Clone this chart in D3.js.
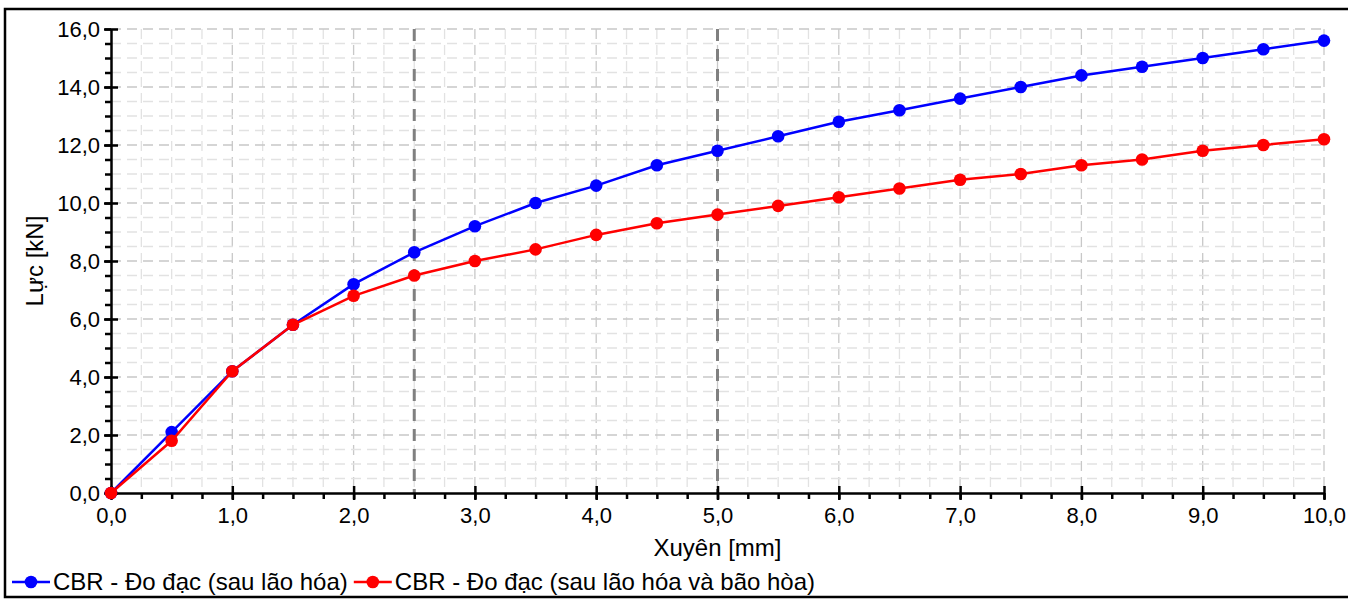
<!DOCTYPE html>
<html>
<head>
<meta charset="utf-8">
<script src="https://cdn.jsdelivr.net/npm/d3@7"></script>
<style>
  body { margin: 0; background: #fff; }
  svg { display: block; font-family: "Liberation Sans", Arial, sans-serif; }
</style>
</head>
<body>
<div id="chart"></div>
<script>
// Data
const xValues = [0, 0.5, 1, 1.5, 2, 2.5, 3, 3.5, 4, 4.5, 5, 5.5, 6, 6.5, 7, 7.5, 8, 8.5, 9, 9.5, 10];
const blueValues = [0, 2.1, 4.2, 5.8, 7.2, 8.3, 9.2, 10.0, 10.6, 11.3, 11.8, 12.3, 12.8, 13.2, 13.6, 14.0, 14.4, 14.7, 15.0, 15.3, 15.6];
const redValues = [0, 1.8, 4.2, 5.8, 6.8, 7.5, 8.0, 8.4, 8.9, 9.3, 9.6, 9.9, 10.2, 10.5, 10.8, 11.0, 11.3, 11.5, 11.8, 12.0, 12.2];
const refLines = [2.5, 5.0];
const seriesNames = ["CBR - Đo đạc (sau lão hóa)", "CBR - Đo đạc (sau lão hóa và bão hòa)"];
const seriesColors = ["#0000ff", "#ff0000"];

const width = 1348, height = 599;
const margin = { top: 29, right: 24, bottom: 106, left: 111 };

const svg = d3.select("#chart")
  .append("svg")
  .attr("width", width)
  .attr("height", height);

// outer frame (right side cropped off in the reference)
svg.append("rect")
  .attr("x", 5).attr("y", 9)
  .attr("width", width + 10).attr("height", 588)
  .attr("fill", "none")
  .attr("stroke", "#000")
  .attr("stroke-width", 2.5);

const xScale = d3.scaleLinear().domain([0, 10]).range([margin.left, width - margin.right]);
const yScale = d3.scaleLinear().domain([0, 16]).range([height - margin.bottom, margin.top]);

const fmt = d => d3.format(".1f")(d).replace(".", ",");

// grid: minor lines every 0.25 (x) and 0.5 (y), major lines darker
const grid = svg.append("g");
const xMinor = d3.range(0, 10.001, 0.25);
const yMinor = d3.range(0, 16.001, 0.5);

grid.selectAll(".vgrid")
  .data(xMinor.filter(d => d > 0))
  .enter().append("line")
  .attr("x1", d => xScale(d)).attr("x2", d => xScale(d))
  .attr("y1", yScale(16)).attr("y2", yScale(0))
  .attr("stroke", d => Math.abs(d % 1) < 1e-6 ? "#c8c8c8" : "#e2e2e2")
  .attr("stroke-width", 1.3)
  .attr("stroke-dasharray", "10,6");

grid.selectAll(".hgrid")
  .data(yMinor.filter(d => d > 0))
  .enter().append("line")
  .attr("x1", xScale(0)).attr("x2", xScale(10))
  .attr("y1", d => yScale(d)).attr("y2", d => yScale(d))
  .attr("stroke", d => Math.abs(d % 2) < 1e-6 ? "#c8c8c8" : "#e2e2e2")
  .attr("stroke-width", 1.3)
  .attr("stroke-dasharray", "10,6");

// reference dashed lines at 2.5 and 5.0 mm
svg.selectAll(".ref")
  .data(refLines)
  .enter().append("line")
  .attr("x1", d => xScale(d)).attr("x2", d => xScale(d))
  .attr("y1", yScale(16)).attr("y2", yScale(0))
  .attr("stroke", "#808080")
  .attr("stroke-width", 3)
  .attr("stroke-dasharray", "12,8");

// axes
const xAxis = svg.append("g")
  .attr("transform", `translate(0, ${yScale(0)})`)
  .call(d3.axisBottom(xScale).tickValues(d3.range(0, 11, 1)).tickFormat(fmt).tickSize(7).tickSizeOuter(0));
svg.append("g")
  .attr("transform", `translate(0, ${yScale(0)})`)
  .call(d3.axisBottom(xScale).tickValues(xMinor).tickFormat("").tickSize(6).tickSizeOuter(0))
  .call(g => g.select(".domain").remove());

const yAxis = svg.append("g")
  .attr("transform", `translate(${xScale(0)}, 0)`)
  .call(d3.axisLeft(yScale).tickValues(d3.range(0, 17, 2)).tickFormat(fmt).tickSize(7).tickSizeOuter(0));
svg.append("g")
  .attr("transform", `translate(${xScale(0)}, 0)`)
  .call(d3.axisLeft(yScale).tickValues(yMinor).tickFormat("").tickSize(6).tickSizeOuter(0))
  .call(g => g.select(".domain").remove());

svg.selectAll(".domain, .tick line").attr("stroke", "#000").attr("stroke-width", 2.5);
svg.selectAll(".tick text").attr("font-size", 22).attr("fill", "#000")
  .attr("font-family", "Liberation Sans, Arial, sans-serif");
xAxis.selectAll(".tick line").attr("y1", -7);
xAxis.selectAll(".tick text").attr("dy", "0.71em").attr("y", 14);
yAxis.selectAll(".tick line").attr("x1", 7);
yAxis.selectAll(".tick text").attr("x", -11);

// axis titles
svg.append("text")
  .attr("x", (xScale(0) + xScale(10)) / 2)
  .attr("y", 556)
  .attr("text-anchor", "middle")
  .attr("font-size", 24)
  .text("Xuyên [mm]");

svg.append("text")
  .attr("transform", `translate(43, ${(yScale(0) + yScale(16)) / 2}) rotate(-90)`)
  .attr("text-anchor", "middle")
  .attr("font-size", 24)
  .text("Lực [kN]");

// series
const series = [blueValues, redValues];
const line = d3.line().x((d, i) => xScale(xValues[i])).y(d => yScale(d));

series.forEach((values, k) => {
  svg.append("path")
    .datum(values)
    .attr("fill", "none")
    .attr("stroke", seriesColors[k])
    .attr("stroke-width", 2.5)
    .attr("d", line);

  svg.selectAll(".dot" + k)
    .data(values)
    .enter().append("circle")
    .attr("cx", (d, i) => xScale(xValues[i]))
    .attr("cy", d => yScale(d))
    .attr("r", 6.3)
    .attr("fill", seriesColors[k]);
});

// legend
const legend = svg.append("g").attr("transform", "translate(12, 582)");
let lx = 0;
seriesNames.forEach((name, k) => {
  const item = legend.append("g").attr("transform", `translate(${lx}, 0)`);
  item.append("line")
    .attr("x1", 0).attr("x2", 38)
    .attr("y1", 0).attr("y2", 0)
    .attr("stroke", seriesColors[k]).attr("stroke-width", 2.5);
  item.append("circle")
    .attr("cx", 19).attr("cy", 0).attr("r", 6.3)
    .attr("fill", seriesColors[k]);
  const t = item.append("text")
    .attr("x", 41).attr("y", 0)
    .attr("dy", "0.35em")
    .attr("font-size", 24)
    .text(name);
  lx += 41 + t.node().getComputedTextLength() + 6;
});
</script>
</body>
</html>
